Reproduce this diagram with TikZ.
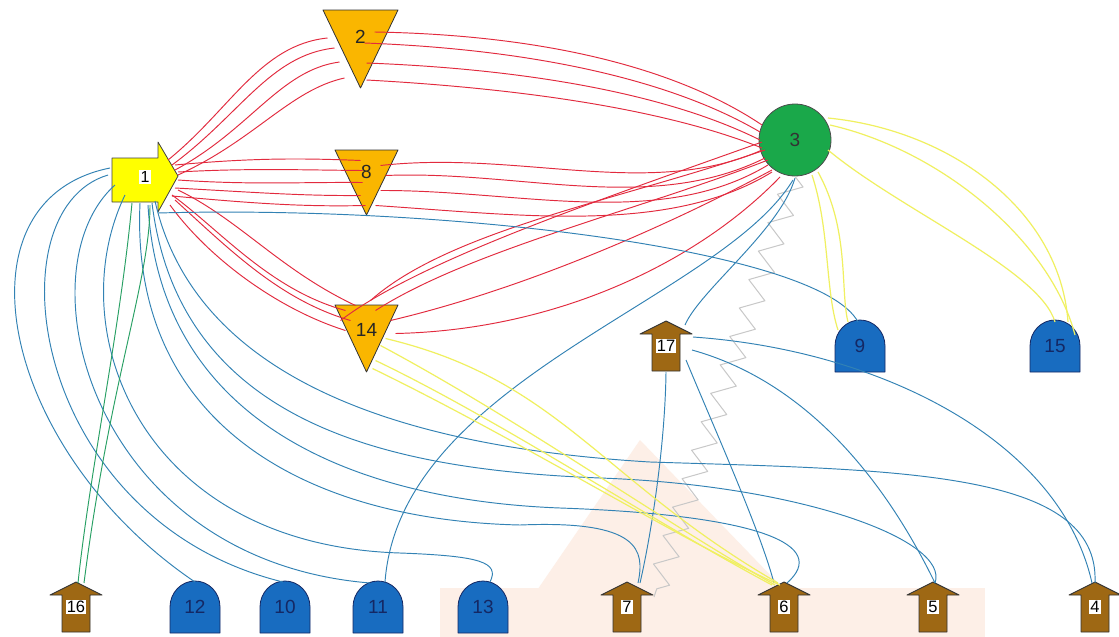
\documentclass[tikz,border=0pt]{standalone}
\usepackage{fontspec}
\setmainfont{Liberation Sans}
\usetikzlibrary{calc,decorations.pathmorphing}

\definecolor{redge}{RGB}{226,42,62}
\definecolor{bedge}{RGB}{50,130,180}
\definecolor{yedge}{RGB}{240,240,96}
\definecolor{gedge}{RGB}{40,160,100}
\definecolor{zedge}{RGB}{200,200,200}
\definecolor{ambertri}{RGB}{250,182,0}
\definecolor{greencirc}{RGB}{26,168,74}
\definecolor{brownarr}{RGB}{158,104,20}
\definecolor{archblue}{RGB}{24,108,192}
\definecolor{archtext}{RGB}{20,40,100}
\definecolor{arrowyellow}{RGB}{255,255,0}
\definecolor{peach}{RGB}{253,239,231}

\newcommand{\wbox}[1]{{\setlength{\fboxsep}{1.2pt}\colorbox{white}{#1}}}
% point relative to the centre of the shape being filled
\newcommand{\ppc}[2]{($(path picture bounding box.center)+(#1,#2)$)}

\begin{document}
\begin{tikzpicture}[x=1pt,y=-1pt,line join=round,
  every node/.style={inner sep=0pt},
  redline/.style={draw=redge,line width=0.95pt},
  blueline/.style={draw=bedge,line width=0.95pt},
  yelline/.style={draw=yedge,line width=1.2pt},
  greenline/.style={draw=gedge,line width=0.95pt},
  zigline/.style={draw=zedge,line width=1pt,decorate,
    decoration={zigzag,amplitude=11pt,segment length=30pt}},
  rarrow/.style={minimum width=72pt,minimum height=76pt,
    font=\fontsize{16}{16}\selectfont,
    path picture={\filldraw[fill=arrowyellow,draw=black!75,line width=0.8pt]
      \ppc{-33}{-19} -- \ppc{13}{-19} -- \ppc{13}{-35} -- \ppc{33}{-1}
      -- \ppc{13}{35} -- \ppc{13}{25} -- \ppc{-33}{25} -- cycle;}},
  uparrow/.style={minimum width=58pt,minimum height=56pt,
    font=\fontsize{16.5}{16.5}\selectfont,
    path picture={\filldraw[fill=brownarr,draw=black!80,line width=0.9pt]
      \ppc{0}{-25} -- \ppc{26}{-12} -- \ppc{14}{-12} -- \ppc{14}{25}
      -- \ppc{-14}{25} -- \ppc{-14}{-12} -- \ppc{-26}{-12} -- cycle;}},
  archnode/.style={minimum width=54pt,minimum height=58pt,
    font=\fontsize{19}{19}\selectfont,text=archtext,
    path picture={\filldraw[fill=archblue,draw=archtext,line width=0.8pt]
      \ppc{-25}{26} -- \ppc{-25}{0}
      arc[start angle=180,end angle=360,x radius=25,y radius=26]
      -- \ppc{25}{26} -- cycle;}},
  downtri/.style n args={2}{minimum width=#1pt,minimum height=#2pt,
    font=\fontsize{19}{19}\selectfont,text=black!85,
    path picture={\filldraw[fill=ambertri,draw=black!80,line width=0.8pt]
      \ppc{-#1/2+2}{-#2/2+2} -- \ppc{#1/2-2}{-#2/2+2} -- \ppc{0}{#2/2-2} -- cycle;}},
  hub/.style={circle,fill=greencirc,draw=black!70,line width=0.8pt,
    minimum size=72pt,font=\fontsize{19}{19}\selectfont,text=black!80}
]
\useasboundingbox (0,0) rectangle (1119,637);
\fill[white] (0,0) rectangle (1119,637);

% faint backdrop
\fill[peach] (640,440) -- (830,637) -- (505,637) -- cycle;
\fill[peach] (440,588) rectangle (985,637);

% nodes
\node[rarrow] (n1) at (145,177) {\wbox{1}};
\node[downtri={79}{82}] (n2) at (360.5,49) {\raisebox{24pt}{2}};
\node[downtri={67}{69}] (n8) at (366.5,182.5) {\raisebox{21pt}{8}};
\node[downtri={67}{71}] (n14) at (366.5,338.5) {\raisebox{17pt}{14}};
\node[hub] (n3) at (795,140) {3};
\node[uparrow] (n17) at (666,346) {\wbox{17}};
\node[archnode] (n9) at (860,346) {9};
\node[archnode] (n15) at (1055,346) {15};
\node[uparrow] (n16) at (76,607) {\wbox{16}};
\node[archnode] (n12) at (195,607) {12};
\node[archnode] (n10) at (285,607) {10};
\node[archnode] (n11) at (378,607) {11};
\node[archnode] (n13) at (483,607) {13};
\node[uparrow] (n7) at (627,607) {\wbox{7}};
\node[uparrow] (n6) at (784,607) {\wbox{6}};
\node[uparrow] (n5) at (933,607) {\wbox{5}};
\node[uparrow] (n4) at (1095,607) {\wbox{4}};

% 1 -- 2
\draw[redline] ($(n1)+(23,-17)$) .. controls (230,110) and (260,45) .. ($(n2)+(-33,-11)$);
\draw[redline] ($(n1)+(27,-12)$) .. controls (240,115) and (270,55) .. ($(n2)+(-26,-1)$);
\draw[redline] ($(n1)+(30,-7)$) .. controls (250,130) and (280,70) .. ($(n2)+(-21,13)$);
\draw[redline] ($(n1)+(33,-2)$) .. controls (255,140) and (290,90) .. ($(n2)+(-16,29)$);
% 2 -- 3
\draw[redline] ($(n2)+(14,-17)$) .. controls (550,35) and (680,70) .. ($(n3)+(-33,-15)$);
\draw[redline] ($(n2)+(4,-6)$) .. controls (550,50) and (680,85) .. ($(n3)+(-35,-8)$);
\draw[redline] ($(n2)+(6,14)$) .. controls (550,70) and (680,100) .. ($(n3)+(-35,0)$);
\draw[redline] ($(n2)+(6,31)$) .. controls (550,90) and (680,115) .. ($(n3)+(-33,8)$);
% 1 -- 8
\draw[redline] ($(n1)+(30,-12)$) .. controls (250,158) and (300,158) .. ($(n8)+(-6,-22)$);
\draw[redline] ($(n1)+(33,-5)$) .. controls (250,168) and (300,170) .. ($(n8)+(-4,-12)$);
\draw[redline] ($(n1)+(33,3)$) .. controls (250,185) and (300,182) .. ($(n8)+(-4,0)$);
\draw[redline] ($(n1)+(30,11)$) .. controls (250,192) and (300,196) .. ($(n8)+(-6,13)$);
\draw[redline] ($(n1)+(27,19)$) .. controls (250,203) and (300,207) .. ($(n8)+(-1,23)$);
% 8 -- 3
\draw[redline] ($(n8)+(14,-17)$) .. controls (520,150) and (650,200) .. ($(n3)+(-33,10)$);
\draw[redline] ($(n8)+(19,-7)$) .. controls (520,170) and (650,215) .. ($(n3)+(-30,18)$);
\draw[redline] ($(n8)+(14,8)$) .. controls (520,190) and (660,230) .. ($(n3)+(-27,25)$);
\draw[redline] ($(n8)+(9,23)$) .. controls (520,215) and (670,235) .. ($(n3)+(-23,32)$);
% 1 -- 14
\draw[redline] ($(n1)+(27,18)$) .. controls (220,230) and (270,290) .. ($(n14)+(-21,-28)$);
\draw[redline] ($(n1)+(30,23)$) .. controls (230,250) and (280,300) .. ($(n14)+(-16,-18)$);
\draw[redline] ($(n1)+(25,28)$) .. controls (210,260) and (280,310) .. ($(n14)+(-21,-8)$);
\draw[redline] ($(n1)+(33,13)$) .. controls (240,220) and (280,270) .. ($(n14)+(-11,-33)$);
% 14 -- 3
\draw[redline] ($(n14)+(4,-38)$) .. controls (450,230) and (620,200) .. ($(n3)+(-30,10)$);
\draw[redline] ($(n14)+(9,-28)$) .. controls (470,250) and (640,210) .. ($(n3)+(-27,20)$);
\draw[redline] ($(n14)+(24,-18)$) .. controls (520,290) and (660,230) .. ($(n3)+(-23,30)$);
\draw[redline] ($(n14)+(29,-5)$) .. controls (560,330) and (700,260) .. ($(n3)+(-15,37)$);
\draw[redline] ($(n14)+(-26,-18)$) .. controls (420,260) and (600,200) .. ($(n3)+(-33,2)$);

% 3 -- 7 (zigzag)
\draw[zigline] (n3.south) -- ($(n7)+(27,-10)$);

% 1 -- lower nodes
\draw[blueline] ($(n1)+(13,36)$) .. controls (450,205) and (820,250) .. ($(n9)+(-2,-24)$);
\draw[blueline] ($(n1)+(-35,-9)$) .. controls (-50,200) and (0,450) .. ($(n12)+(0,-25)$);
\draw[blueline] ($(n1)+(-37,-2)$) .. controls (-10,210) and (30,520) .. ($(n10)+(-2,-25)$);
\draw[blueline] ($(n1)+(-30,8)$) .. controls (20,270) and (90,560) .. ($(n11)+(-8,-24)$);
\draw[blueline] ($(n1)+(-20,18)$) .. controls (60,330) and (140,545) .. (400,553)
  .. controls (480,556) and (500,562) .. ($(n13)+(7,-25)$);
\draw[blueline] ($(n1)+(-5,26)$) .. controls (130,420) and (300,520) .. (520,525)
  .. controls (640,520) and (645,550) .. ($(n7)+(11,-24)$);
\draw[blueline] ($(n1)+(3,28)$) .. controls (160,420) and (350,500) .. (560,508)
  .. controls (760,515) and (830,545) .. ($(n6)+(3,-24)$);
\draw[blueline] ($(n1)+(7,26)$) .. controls (180,430) and (400,470) .. (600,478)
  .. controls (800,485) and (950,540) .. ($(n5)+(2,-24)$);
\draw[blueline] ($(n1)+(10,24)$) .. controls (200,400) and (450,450) .. (650,462)
  .. controls (900,470) and (1100,470) .. ($(n4)+(0,-24)$);
% 1 -- 16
\draw[greenline] ($(n1)+(-13,26)$) .. controls (120,330) and (90,470) .. ($(n16)+(2,-24)$);
\draw[greenline] ($(n1)+(5,28)$) .. controls (150,280) and (110,380) .. ($(n16)+(8,-24)$);

% 3 -- 17, 3 -- 11
\draw[blueline] ($(n3)+(0,38)$) .. controls (780,230) and (700,290) .. ($(n17)+(19,-21)$);
\draw[blueline] ($(n3)+(-2,40)$) .. controls (720,300) and (400,380) .. ($(n11)+(7,-25)$);

% 17 -- bottom row
\draw[blueline] ($(n17)+(0,26)$) .. controls (665,450) and (650,540) .. ($(n7)+(13,-24)$);
\draw[blueline] ($(n17)+(20,14)$) .. controls (715,430) and (760,530) .. ($(n6)+(-10,-24)$);
\draw[blueline] ($(n17)+(26,4)$) .. controls (800,380) and (880,470) .. ($(n5)+(2,-24)$);
\draw[blueline] ($(n17)+(27,-9)$) .. controls (880,350) and (1060,440) .. ($(n4)+(-3,-24)$);

% 3 -- 9, 3 -- 15
\draw[yelline] ($(n3)+(17,35)$) .. controls (830,230) and (825,290) .. ($(n9)+(-22,-16)$);
\draw[yelline] ($(n3)+(23,32)$) .. controls (850,230) and (840,290) .. ($(n9)+(-12,-24)$);
\draw[yelline] ($(n3)+(33,-22)$) .. controls (950,130) and (1060,210) .. ($(n15)+(13,-24)$);
\draw[yelline] ($(n3)+(35,-15)$) .. controls (940,150) and (1050,240) .. ($(n15)+(20,-11)$);
\draw[yelline] ($(n3)+(33,10)$) .. controls (900,210) and (1040,270) .. ($(n15)+(0,-24)$);
% 14 -- 6
\draw[yelline] ($(n14)+(19,0)$) .. controls (560,380) and (600,480) .. ($(n6)+(-6,-24)$);
\draw[yelline] ($(n14)+(14,7)$) .. controls (520,420) and (660,520) .. ($(n6)+(-9,-22)$);
\draw[yelline] ($(n14)+(9,22)$) .. controls (500,420) and (650,520) .. ($(n6)+(-12,-22)$);
\draw[yelline] ($(n14)+(6,30)$) .. controls (520,440) and (680,540) .. ($(n6)+(-4,-22)$);
\end{tikzpicture}
\end{document}
